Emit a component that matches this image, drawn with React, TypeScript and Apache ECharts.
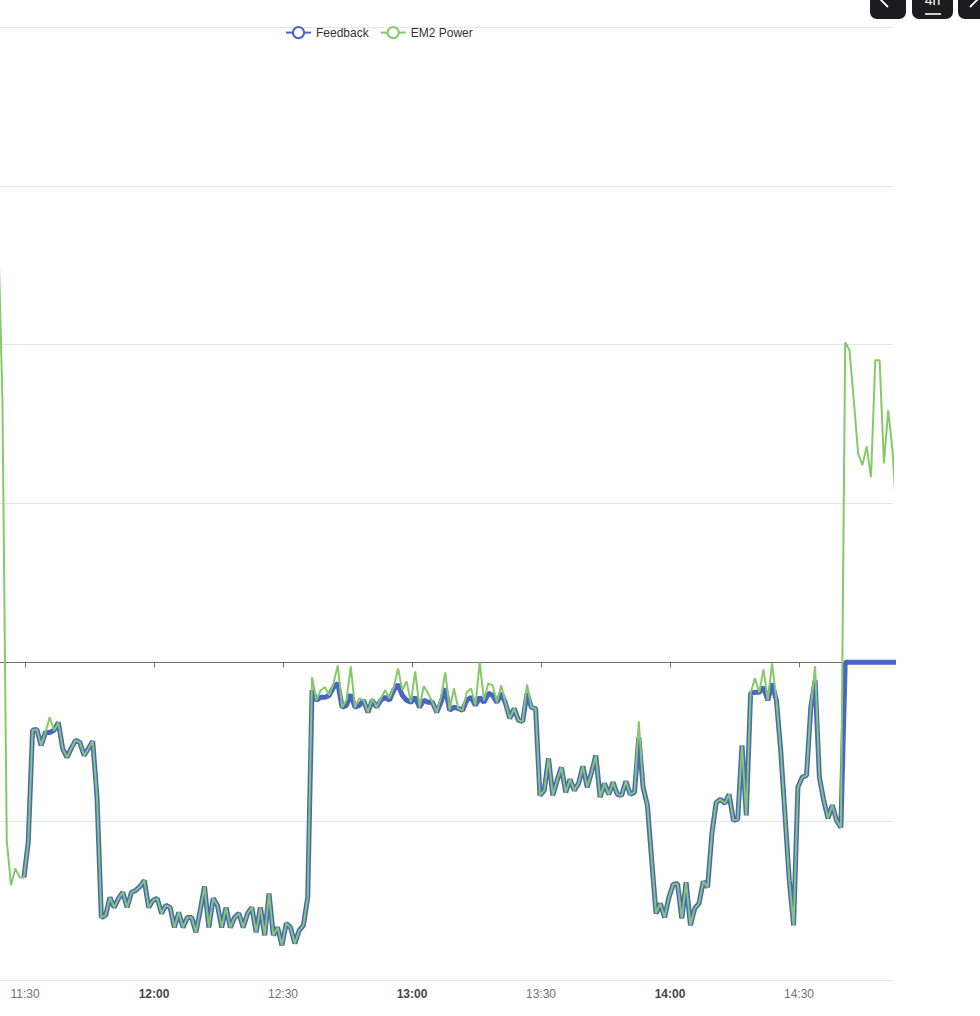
import React, { useEffect, useRef } from "react";
import * as echarts from "echarts";

// ---- data ----
const seriesNames = ["Feedback", "EM2 Power"];
const firstSampleTime = "11:23:45"; // one sample per minute
const sampleStepMinutes = 1;
const axisStartTime = "11:24:11";
const axisEndTime = "14:51:52";
const tickTimes = ["11:30", "12:00", "12:30", "13:00", "13:30", "14:00", "14:30"];
const yMin = -2000;
const yMax = 4000;
const yStep = 1000;

const em2PowerValues = [
  2720, 1650, -1121, -1404, -1297, -1354, -1354, -1133, -428, -422,
  -523, -441, -346, -428, -378, -542, -598, -542, -491, -504,
  -586, -542, -497, -850, -1606, -1593, -1480, -1543, -1486, -1448,
  -1543, -1448, -1436, -1411, -1373, -1543, -1499, -1486, -1581, -1530,
  -1543, -1669, -1574, -1669, -1606, -1606, -1700, -1562, -1411, -1669,
  -1486, -1530, -1669, -1543, -1669, -1606, -1581, -1669, -1581, -1543,
  -1700, -1543, -1719, -1455, -1719, -1669, -1782, -1644, -1669, -1770,
  -1688, -1656, -1480, -94, -239, -176, -157, -208, -132, -19,
  -283, -239, -25, -283, -227, -239, -315, -227, -283, -227,
  -176, -227, -157, -38, -176, -120, -252, -57, -283, -151,
  -195, -252, -315, -220, -63, -302, -164, -290, -302, -189,
  -164, -271, 0, -239, -132, -145, -252, -145, -258, -353,
  -290, -365, -372, -139, -283, -290, -838, -806, -605, -838,
  -743, -661, -819, -737, -806, -762, -655, -787, -693, -586,
  -850, -762, -831, -756, -831, -838, -749, -831, -819, -372,
  -787, -900, -1247, -1581, -1518, -1606, -1480, -1398, -1392, -1612,
  -1385, -1656, -1549, -1518, -1379, -1417, -1077, -882, -863, -888,
  -831, -995, -989, -523, -963, -195, -101, -189, -44, -239,
  -6, -239, -554, -963, -1373, -1656, -787, -724, -712, -283,
  -25, -724, -869, -982, -900, -995, -1039, 2015, 1965, 1650,
  1316, 1241, 1360, 1165, 1902, 1902, 1253, 1587, 1335, 894,
];

const feedbackValues = [
  null, null, null, null, null, null, -1354, -1133, -428, -422,
  -523, -441, -441, -428, -378, -542, -598, -542, -491, -504,
  -586, -542, -497, -850, -1606, -1593, -1480, -1543, -1486, -1448,
  -1543, -1448, -1436, -1411, -1373, -1543, -1499, -1486, -1581, -1530,
  -1543, -1669, -1574, -1669, -1606, -1606, -1700, -1562, -1411, -1669,
  -1486, -1530, -1669, -1543, -1669, -1606, -1581, -1669, -1581, -1543,
  -1700, -1543, -1719, -1455, -1719, -1669, -1782, -1644, -1669, -1770,
  -1688, -1656, -1480, -176, -239, -220, -220, -208, -157, -132,
  -283, -271, -202, -283, -271, -239, -315, -239, -283, -239,
  -220, -239, -176, -139, -208, -239, -252, -220, -283, -239,
  -252, -252, -315, -252, -164, -302, -283, -290, -302, -239,
  -220, -271, -220, -252, -195, -208, -252, -195, -258, -353,
  -290, -365, -372, -195, -283, -290, -838, -806, -605, -838,
  -743, -661, -819, -737, -806, -762, -655, -787, -693, -586,
  -850, -762, -831, -756, -831, -838, -749, -831, -819, -472,
  -787, -900, -1247, -1581, -1518, -1606, -1480, -1398, -1392, -1612,
  -1385, -1656, -1549, -1518, -1379, -1417, -1077, -882, -863, -888,
  -831, -995, -989, -523, -963, -195, -189, -189, -157, -239,
  -132, -239, -554, -963, -1373, -1656, -787, -724, -712, -283,
  -113, -724, -869, -982, -900, -995, -1039, 0, 0, 0,
  0, 0, 0, 0, 0, 0, 0, 0, 0, 0,
];

// ---- helpers ----
function toMs(hms: string): number {
  const [h, m, s] = hms.split(":").map((x) => parseInt(x, 10));
  return Date.UTC(2024, 5, 1, h, m, s || 0);
}
function pad(n: number): string {
  return n < 10 ? "0" + n : "" + n;
}
function fmt(v: number): string {
  const d = new Date(v);
  return pad(d.getUTCHours()) + ":" + pad(d.getUTCMinutes());
}

const FONT = "'Liberation Sans', Arial, Helvetica, sans-serif";

export default function App() {
  const ref = useRef<HTMLDivElement>(null);

  useEffect(() => {
    document.body.style.margin = "0";
    if (!ref.current) return;
    const chart = echarts.init(ref.current, undefined, { renderer: "svg" });

    const t0 = toMs(firstSampleTime);
    const step = sampleStepMinutes * 60000;
    const times = em2PowerValues.map((_, i) => t0 + i * step);
    const powerData = em2PowerValues.map((v, i) => [times[i], v]);
    const feedbackData = feedbackValues.map((v, i) => [times[i], v == null ? "-" : v]);
    const ticks = tickTimes.map((t) => toMs(t));
    const xMin = toMs(axisStartTime);
    const xMax = toMs(axisEndTime);

    const blue = "#4a65c6";
    const green = "#85c96a";

    chart.setOption({
      animation: false,
      textStyle: { fontFamily: FONT },
      legend: {
        data: seriesNames,
        left: 280,
        top: 21,
        itemWidth: 25,
        itemHeight: 14,
        itemGap: 11,
        textStyle: { color: "#333", fontSize: 12, fontFamily: FONT },
        lineStyle: { width: 2 },
      },
      grid: { left: 0, right: 87, top: 27, bottom: 36, containLabel: false },
      xAxis: [
        {
          type: "value",
          position: "bottom",
          min: xMin,
          max: xMax,
          axisLine: { show: false, onZero: false },
          axisTick: { show: false },
          splitLine: { show: false },
          axisLabel: {
            customValues: ticks,
            margin: 8,
            fontSize: 12,
            color: "#6e7079",
            fontFamily: FONT,
            formatter: (v: number) => {
              const d = new Date(v);
              const s = fmt(v);
              return d.getUTCMinutes() === 0 ? "{b|" + s + "}" : "{n|" + s + "}";
            },
            rich: {
              b: { fontWeight: "bold", color: "#464646", fontSize: 12, fontFamily: FONT },
              n: { color: "#6e7079", fontSize: 12, fontFamily: FONT },
            },
          },
        },
        {
          type: "value",
          position: "top",
          min: xMin,
          max: xMax,
          axisLine: { show: true, onZero: true, lineStyle: { color: "#6e7079", width: 1 } },
          axisTick: {
            show: true,
            inside: true,
            length: 5,
            customValues: ticks,
            lineStyle: { color: "#6e7079" },
          },
          axisLabel: { show: false },
          splitLine: { show: false },
        },
      ],
      yAxis: {
        type: "value",
        min: yMin,
        max: yMax,
        interval: yStep,
        axisLine: { show: false },
        axisTick: { show: false },
        axisLabel: { show: false },
        splitLine: { show: true, lineStyle: { color: "#E0E6F1", width: 1 } },
      },
      series: [
        {
          name: seriesNames[0],
          type: "line",
          xAxisIndex: 0,
          data: feedbackData,
          showSymbol: false,
          symbol: "emptyCircle",
          symbolSize: 8,
          connectNulls: false,
          clip: true,
          itemStyle: { color: blue },
          lineStyle: { color: blue, width: 5 },
          z: 2,
        },
        {
          name: seriesNames[1],
          type: "line",
          xAxisIndex: 0,
          data: powerData,
          showSymbol: false,
          symbol: "emptyCircle",
          symbolSize: 8,
          clip: true,
          itemStyle: { color: green },
          lineStyle: { color: green, width: 2 },
          z: 3,
        },
      ],
    });

    return () => {
      chart.dispose();
    };
  }, []);

  const btn: React.CSSProperties = {
    position: "absolute",
    top: -20,
    height: 39,
    background: "#1c1c1e",
    borderRadius: 7,
    overflow: "hidden",
  };

  return (
    <div
      style={{
        position: "fixed",
        left: 0,
        top: 0,
        width: 980,
        height: 1016,
        background: "#fff",
        overflow: "hidden",
      }}
    >
      <div ref={ref} style={{ position: "absolute", left: 0, top: 0, width: 980, height: 1016 }} />
      <div style={{ ...btn, left: 870, width: 36 }}>
        <svg width={36} height={39} style={{ position: "absolute", left: 0, top: 0 }}>
          <polyline points="18,11 10,19 18,27" fill="none" stroke="#fff" strokeWidth={1.8} />
        </svg>
      </div>
      <div style={{ ...btn, left: 912, width: 41 }}>
        <div
          style={{
            position: "absolute",
            left: 0,
            width: 41,
            top: 13,
            textAlign: "center",
            color: "#fff",
            fontSize: 14,
            lineHeight: "14px",
            fontFamily: FONT,
          }}
        >
          4h
        </div>
        <div
          style={{
            position: "absolute",
            left: 13,
            width: 16,
            top: 33,
            height: 2,
            background: "#d0d0d0",
          }}
        />
      </div>
      <div style={{ ...btn, left: 958, width: 36 }}>
        <svg width={36} height={39} style={{ position: "absolute", left: 0, top: 0 }}>
          <polyline points="12,11 20,19 12,27" fill="none" stroke="#fff" strokeWidth={1.8} />
        </svg>
      </div>
    </div>
  );
}
